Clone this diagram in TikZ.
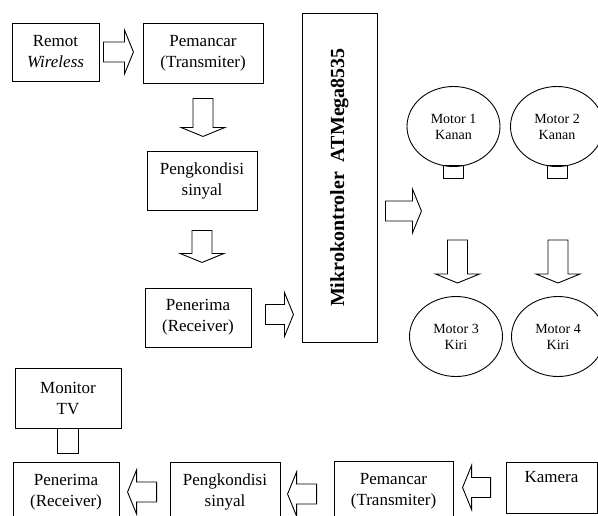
\documentclass[tikz,border=0pt]{standalone}
\usepackage{fontspec}
\setmainfont{Liberation Serif}
\usetikzlibrary{shapes.geometric}

\tikzset{
  blok/.style={draw, line width=0.9pt, align=center, inner sep=2pt, font=\fontsize{17}{21}\selectfont},
  motor/.style={draw, ellipse, line width=0.9pt, align=center, inner sep=0pt, minimum width=93pt, minimum height=80pt, font=\fontsize{14}{16}\selectfont},
  kaki/.style={draw, line width=0.9pt, inner sep=0pt},
  pics/panah/.style={code={\draw[line width=0.9pt] (0,-10) -- (#1-9,-10) -- (#1-9,-22) -- (#1,0) -- (#1-9,22) -- (#1-9,10) -- (0,10) -- cycle;}}
}

\begin{document}
\begin{tikzpicture}[x=1pt,y=-1pt]
\clip (0,0) rectangle (598,515);
% jalur remot
\node[blok, minimum width=87pt, minimum height=58pt] (remot) at (55.5,52) {Remot\\\textit{Wireless}};
\node[blok, minimum width=120pt, minimum height=60pt] (pemancar) at (203,53) {Pemancar\\(Transmiter)};
\node[blok, minimum width=110pt, minimum height=59pt] (kondisi) at (202,180.5) {Pengkondisi\\sinyal};
\node[blok, minimum width=106pt, minimum height=59pt] (penerima) at (198,317.5) {Penerima\\(Receiver)};
\pic at ([xshift=4pt]remot.east) {panah=30};
\pic[rotate=-90] at ([yshift=-15pt]pemancar.south) {panah=38};
\pic[rotate=-90] at ([yshift=-20pt]kondisi.south) {panah=32};
\pic at ([xshift=14pt,yshift=3pt]penerima.east) {panah=28};
% mikrokontroler
\node[draw, line width=0.9pt, rotate=90, minimum width=329pt, minimum height=75pt, font=\bfseries\fontsize{20}{24}\selectfont] (mikro) at (339.5,177.5) {Mikrokontroler\ \ ATMega8535};
\pic at ([xshift=8pt,yshift=-33.5pt]mikro.south) {panah=36};
% motor
\node[motor] (m1) at (453.5,126.5) {Motor 1\\Kanan};
\node[motor] (m2) at (557,126.5) {Motor 2\\Kanan};
\node[kaki, minimum width=20pt, minimum height=13pt, anchor=north] (k1) at ([yshift=2pt]m1.south) {};
\node[kaki, minimum width=20pt, minimum height=13pt, anchor=north] (k2) at ([yshift=2pt]m2.south) {};
\node[motor] (m3) at (456,336.5) {Motor 3\\Kiri};
\node[motor] (m4) at (558,336.5) {Motor 4\\Kiri};
\pic[rotate=-90] at (457.5,240) {panah=43};
\pic[rotate=-90] at (558,240) {panah=43};
% jalur kamera
\node[blok, minimum width=106pt, minimum height=60pt] (monitor) at (68,398) {Monitor\\TV};
\node[kaki, minimum width=21pt, minimum height=25pt, anchor=north] (kaki) at ([xshift=-0.5pt]monitor.south) {};
\node[blok, minimum width=106pt, minimum height=60pt] (penerima2) at (66,492) {Penerima\\(Receiver)};
\node[blok, minimum width=110pt, minimum height=60pt] (kondisi2) at (225,492) {Pengkondisi\\sinyal};
\node[blok, minimum width=119pt, minimum height=60pt] (pemancar2) at (393.5,491) {Pemancar\\(Transmiter)};
\node[blok, minimum width=91pt, minimum height=51pt] (kamera) at (551.5,487.5) {Kamera\\\mbox{}};
\pic[rotate=180] at ([xshift=-13pt]kondisi2.west) {panah=29};
\pic[rotate=180] at ([xshift=-17pt,yshift=-3pt]pemancar2.west) {panah=29};
\pic[rotate=180] at ([xshift=-15pt]kamera.west) {panah=28};
\end{tikzpicture}
\end{document}
